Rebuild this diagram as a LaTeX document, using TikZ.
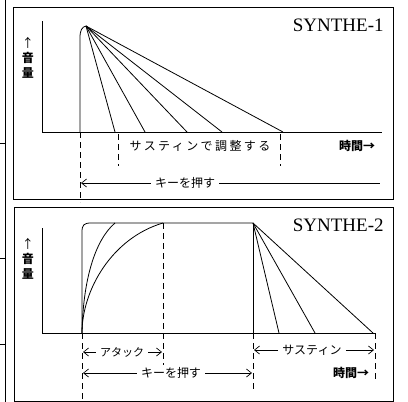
\documentclass[tikz,border=0pt]{standalone}
\usepackage{fontspec}
\setmainfont{Liberation Serif}
\newfontfamily\jp{Noto Sans CJK JP}
\usetikzlibrary{arrows.meta}

\begin{document}
\begin{tikzpicture}[x=1pt, y=-1pt, line width=0.8pt,
  frame/.style={line width=1pt},
  guide/.style={dash pattern=on 6pt off 4pt, line width=0.7pt},
  jtext/.style={font=\jp\fontsize{12}{15}\selectfont, inner sep=4pt},
  wide/.style={font=\jp\fontsize{12}{15}\selectfont\addfontfeature{LetterSpace=20}},
  synlabel/.style={font=\fontsize{19}{19}\selectfont, anchor=east, inner sep=0pt},
  dim/.style={line width=0.7pt, -{Straight Barb[length=5pt,width=8pt]}}]
\useasboundingbox (0,0) rectangle (408,402);
% page edge and frames
\draw[frame] (5,0) -- (5,402);
\draw[frame] (0,143) -- (5,143) (0,258) -- (5,258) (0,344) -- (5,344);
\draw[frame] (13,7) rectangle (393,199);
\draw[frame] (14,207) rectangle (393,401);

% SYNTHE-1
\node[synlabel] (syn1) at (384,25) {SYNTHE-1};
\draw (42,21) -- (42,132) -- (382,132);
\node[jtext, align=center, inner sep=0pt] (vol1) at (28,58) {↑\\\bfseries 音\\\bfseries 量};
\coordinate (pk1) at (86,26);
\draw (80,132) -- (80,38) .. controls (80,30) and (82,27) .. (pk1);
\foreach \x in {115,145,187,222,283} \draw (pk1) -- (\x,132);
\draw[guide] (80,132) -- (80,202);
\draw[guide] (118,134) -- (118,166);
\draw[guide] (280,134) -- (280,166);
\node[jtext, wide] (sus1) at (200,146) {サスティンで調整する};
\node[jtext] (time1) at (357,146) {\bfseries 時間→};
\coordinate (k1a) at (81,183);
\coordinate (k1b) at (380,183);
\node[jtext] (key1) at (185,183) {キーを押す};
\draw[dim] (key1.west) -- (k1a);
\draw (key1.east) -- (k1b);

% SYNTHE-2
\node[synlabel] (syn2) at (384,225) {SYNTHE-2};
\draw (42,228) -- (42,333) -- (375,333);
\node[jtext, align=center, inner sep=0pt] (vol2) at (28,259) {↑\\\bfseries 音\\\bfseries 量};
\coordinate (pk2) at (253,223);
\draw (82,333) -- (82,232) .. controls (82,225) and (84,223) .. (91,223) -- (pk2);
\draw (82,333) .. controls (83,280) and (95,240) .. (115,223);
\draw (82,333) .. controls (82,290) and (112,238) .. (163,223);
\draw (pk2) -- (253,333);
\foreach \x in {279,315,373} \draw (pk2) -- (\x,333);
\draw[guide] (82,333) -- (82,402);
\draw[guide] (163,223) -- (163,365);
\draw[guide] (253,333) -- (253,392);
\draw[guide] (375,333) -- (375,382);
\coordinate (a1) at (83,352);
\coordinate (a2) at (162,352);
\node[jtext, font=\jp\fontsize{11}{13}\selectfont] (atk) at (122,352) {アタック};
\draw[dim] (atk.west) -- (a1);
\draw[dim] (atk.east) -- (a2);
\coordinate (s1) at (254,350);
\coordinate (s2) at (374,350);
\node[jtext] (sus2) at (312,350) {サスティン};
\draw[dim] (sus2.west) -- (s1);
\draw[dim] (sus2.east) -- (s2);
\coordinate (k2a) at (83,373);
\coordinate (k2b) at (252,373);
\node[jtext] (key2) at (171,373) {キーを押す};
\draw[dim] (key2.west) -- (k2a);
\draw[dim] (key2.east) -- (k2b);
\node[jtext] (time2) at (351,373) {\bfseries 時間→};
\end{tikzpicture}
\end{document}
